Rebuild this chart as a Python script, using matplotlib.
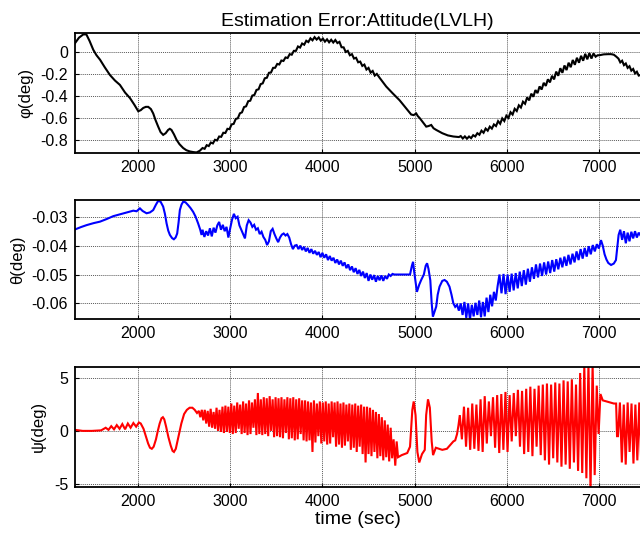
import numpy as np
import matplotlib
matplotlib.use("Agg")
import matplotlib.pyplot as plt

plt.rcParams['font.family'] = ['Liberation Sans', 'DejaVu Sans']
plt.rcParams['axes.unicode_minus'] = False

# ---------------- data ----------------
x_lim = (1317, 7444)
x_ticks = [2000, 3000, 4000, 5000, 6000, 7000]

# phi (roll) error, deg
phi_t1 = [1317, 1360, 1407, 1440, 1475, 1515, 1550, 1588, 1640, 1696, 1750, 1804, 1860, 1913, 1960, 2003,
          2030, 2057, 2085, 2111, 2140, 2165, 2190, 2219, 2245, 2273, 2300, 2327, 2345, 2363, 2390, 2418,
          2450, 2490, 2525, 2562, 2600, 2635, 2670]
phi_v1 = [0.08, 0.13, 0.16, 0.16, 0.10, 0.02, -0.03, -0.07, -0.14, -0.21, -0.26, -0.30, -0.37, -0.42, -0.48, -0.54,
          -0.53, -0.51, -0.50, -0.50, -0.52, -0.56, -0.62, -0.68, -0.73, -0.755, -0.74, -0.71, -0.70, -0.71, -0.75, -0.80,
          -0.84, -0.875, -0.895, -0.906, -0.912, -0.915, -0.90]
phi_osc0_start, phi_osc0_step = 2700, 22.5
phi_osc0 = [-0.875, -0.882, -0.849, -0.857, -0.825, -0.833, -0.800, -0.806, -0.770, -0.773,
            -0.736, -0.738, -0.700, -0.703, -0.660, -0.655, -0.610, -0.604, -0.559, -0.550,
            -0.502, -0.495, -0.449, -0.444, -0.397, -0.391, -0.346, -0.340, -0.293, -0.286,
            -0.240, -0.235, -0.190, -0.187, -0.145, -0.144, -0.109, -0.114, -0.078, -0.082]
phi_osc1_start, phi_osc1_step = 3600, 22.5
phi_osc1 = [-0.050, -0.055, -0.020, -0.025, 0.010, 0.010, 0.050, 0.040, 0.077, 0.066, 0.102, 0.090,
            0.124, 0.106, 0.135, 0.113, 0.132, 0.103, 0.122, 0.094, 0.115, 0.088, 0.111, 0.086,
            0.109, 0.081, 0.092, 0.043, 0.042, 0.000, 0.010, -0.030, -0.020, -0.060, -0.053, -0.094,
            -0.088, -0.127, -0.115, -0.160, -0.145, -0.188, -0.173, -0.215, -0.200]
phi_t2 = [4620, 4692, 4760, 4837, 4900, 4963, 4990, 5017, 5035, 5053, 5090, 5126, 5150, 5180, 5205, 5234,
          5300, 5360, 5420, 5480]
phi_v2 = [-0.235, -0.315, -0.375, -0.44, -0.505, -0.57, -0.575, -0.56, -0.585, -0.60, -0.64, -0.68, -0.675, -0.665, -0.695, -0.71,
          -0.74, -0.76, -0.77, -0.775]
phi_osc2_start, phi_osc2_step = 5500, 22.5
phi_osc2 = [-0.766, -0.788, -0.769, -0.790, -0.770, -0.785, -0.758, -0.770, -0.740,
            -0.754, -0.717, -0.736, -0.698, -0.717, -0.680, -0.698, -0.660, -0.675,
            -0.630, -0.654, -0.605, -0.629, -0.580, -0.601, -0.549, -0.570, -0.518, -0.538, -0.486, -0.506, -0.453, -0.472,
            -0.414, -0.441, -0.380, -0.408, -0.347, -0.375, -0.314, -0.342, -0.281, -0.309, -0.249, -0.277, -0.217,
            -0.250, -0.179, -0.217, -0.148, -0.190, -0.123, -0.165, -0.098, -0.139, -0.073, -0.117, -0.053, -0.098,
            -0.035, -0.080, -0.017, -0.067, -0.010, -0.060, -0.013, -0.043, -0.030]
phi_t3 = [7003, 7050, 7100, 7130, 7160, 7183, 7210, 7230, 7250, 7270, 7290, 7310, 7330, 7350, 7370, 7390, 7410, 7430, 7450]
phi_v3 = [-0.03, -0.022, -0.02, -0.02, -0.025, -0.04, -0.06, -0.095, -0.08, -0.12, -0.105, -0.145, -0.13, -0.17, -0.155, -0.195, -0.18, -0.215, -0.21]

# theta (pitch) error, deg
theta_t1 = [1317, 1380, 1443, 1520, 1588, 1660, 1732, 1800, 1877, 1949, 1985, 2021, 2050, 2093, 2130, 2165,
            2195, 2219, 2245, 2273, 2292, 2310, 2328, 2346, 2370, 2389, 2408, 2425, 2440, 2454, 2472, 2490,
            2515, 2544, 2570, 2598, 2625, 2652, 2675, 2689]
theta_v1 = [-0.0344, -0.0336, -0.0329, -0.0322, -0.0317, -0.0308, -0.0298, -0.0292, -0.0285, -0.0279, -0.0281, -0.0271, -0.0280, -0.0288, -0.0285, -0.0277,
            -0.0258, -0.0245, -0.0248, -0.0265, -0.0290, -0.0323, -0.0348, -0.0363, -0.0374, -0.0378, -0.0372, -0.0358, -0.0320, -0.0277, -0.0258, -0.0248,
            -0.0250, -0.0260, -0.0270, -0.0283, -0.0300, -0.0323, -0.0345, -0.0363]
theta_osc1_start, theta_osc1_step = 2700, 20
theta_osc1 = [-0.0345, -0.0370, -0.0350, -0.0365, -0.0340, -0.0368, -0.0338, -0.0355, -0.0330, -0.0318,
              -0.0345, -0.0328, -0.0350, -0.0335, -0.0372, -0.0340, -0.0310, -0.0290, -0.0305, -0.0300,
              -0.0330, -0.0345, -0.0360, -0.0375, -0.0330, -0.0312, -0.0320, -0.0335, -0.0328, -0.0345,
              -0.0340, -0.0360, -0.0352, -0.0370, -0.0380, -0.0398, -0.0385, -0.0350, -0.0342, -0.0360,
              -0.0375, -0.0388, -0.0372, -0.0362, -0.0358, -0.0365, -0.0360, -0.0372, -0.0395, -0.0412,
              -0.0400]
theta_osc2_start, theta_osc2_step = 3720, 20
theta_osc2 = [-0.0398, -0.0412, -0.0400, -0.0415, -0.0404, -0.0420, -0.0408, -0.0425, -0.0412, -0.0428,
              -0.0418, -0.0432, -0.0422, -0.0440, -0.0425, -0.0442, -0.0430, -0.0450, -0.0436, -0.0452,
              -0.0442, -0.0460, -0.0448, -0.0465, -0.0452, -0.0470, -0.0458, -0.0478, -0.0465, -0.0485,
              -0.0472, -0.0492, -0.0478, -0.0498, -0.0484, -0.0505, -0.0490, -0.0512, -0.0495, -0.0522,
              -0.0500, -0.0518, -0.0502, -0.0525, -0.0505, -0.0520, -0.0503, -0.0522, -0.0505, -0.0515,
              -0.0500, -0.0505, -0.0498, -0.0500, -0.0500]
theta_t2 = [4850, 4900, 4950, 4970, 4983, 4995, 5025, 5050, 5071, 5100, 5120, 5135, 5150, 5170, 5185, 5198,
            5215, 5234, 5250, 5270, 5300, 5325, 5350, 5378, 5400, 5420, 5440]
theta_v2 = [-0.0500, -0.0500, -0.0500, -0.0470, -0.0456, -0.0490, -0.0560, -0.0535, -0.0519, -0.0500, -0.0470, -0.0461, -0.0480, -0.0520, -0.0600, -0.0646,
            -0.0630, -0.0611, -0.0570, -0.0542, -0.0522, -0.0519, -0.0525, -0.0542, -0.0570, -0.0600, -0.0612]
theta_osc3_start, theta_osc3_step = 5460, 20
theta_osc3 = [-0.0605, -0.0625, -0.0600, -0.0640, -0.0595, -0.0650, -0.0600, -0.0656, -0.0605, -0.0645,
              -0.0598, -0.0640, -0.0590, -0.0648, -0.0595, -0.0645, -0.0580, -0.0630, -0.0570, -0.0610,
              -0.0560, -0.0590, -0.0540]
theta_osc4_start, theta_osc4_step = 5920, 22
theta_osc4 = [-0.0500, -0.0565, -0.0498, -0.0568, -0.0500, -0.0560, -0.0497, -0.0555, -0.0495, -0.0548,
              -0.0490, -0.0540, -0.0485, -0.0535, -0.0480, -0.0525, -0.0475, -0.0515, -0.0465, -0.0510,
              -0.0462, -0.0505, -0.0458, -0.0500, -0.0455, -0.0495, -0.0450, -0.0490, -0.0447, -0.0482,
              -0.0442, -0.0475, -0.0438, -0.0470, -0.0432, -0.0465, -0.0428, -0.0458, -0.0420, -0.0450,
              -0.0412, -0.0445, -0.0408, -0.0438, -0.0402, -0.0430, -0.0398, -0.0420, -0.0395, -0.0410]
theta_t3 = [7021, 7040, 7060, 7080, 7100, 7130, 7160, 7183, 7200, 7212]
theta_v3 = [-0.0381, -0.0400, -0.0430, -0.0448, -0.0460, -0.0467, -0.0462, -0.0450, -0.0400, -0.0363]
theta_osc5_start, theta_osc5_step = 7230, 20
theta_osc5 = [-0.0345, -0.0380, -0.0350, -0.0392, -0.0355, -0.0385, -0.0352, -0.0375, -0.0350, -0.0372,
              -0.0355, -0.0365]

# psi (yaw) error, deg
psi_t1 = [1317, 1400, 1500, 1600, 1650, 1680, 1710, 1740, 1770, 1800, 1830, 1860, 1890, 1920, 1950, 1980,
          2010, 2030, 2060, 2085, 2110, 2130, 2150, 2170, 2195, 2215, 2235, 2255, 2270, 2285, 2305, 2330,
          2355, 2375, 2390, 2410, 2430, 2450, 2470, 2500, 2530, 2560, 2590, 2615, 2640]
psi_v1 = [0.1, 0.0, 0.0, 0.05, 0.3, 0.1, 0.45, 0.15, 0.55, 0.2, 0.65, 0.15, 0.7, 0.3, 0.75, 0.4,
          0.8, 0.7, 0.2, -0.5, -1.2, -1.6, -1.7, -1.5, -0.8, 0.0, 0.7, 1.2, 1.3, 1.1, 0.4, -0.6,
          -1.4, -1.9, -2.0, -1.7, -0.9, -0.1, 0.7, 1.6, 2.0, 2.2, 2.2, 2.0, 1.7]
psi_osc1_start, psi_osc1_step = 2660, 16
psi_osc1 = [1.9, 1.3, 2.0, 1.0, 2.0, 0.7, 1.9, 0.4, 2.1, 0.3, 1.8, 0.2, 2.2, 0.0, 2.0, -0.1,
            2.3, -0.2, 2.4, -0.1, 2.3, -0.2, 2.6, -0.3, 2.4, -0.2, 2.7, 0.2, 2.5, -0.3, 2.8, -0.2,
            2.6, -0.4, 2.9, -0.3, 2.7, 0.3, 3.0, -0.4, 3.6, -0.3, 3.0, -0.4, 3.2, -0.3, 3.1, -0.5,
            3.3, 0.0, 3.0, -0.6, 3.2, -0.5, 3.1, -0.6, 3.2, -0.7, 3.0, -0.2, 3.2, -0.8, 3.1, -0.7,
            3.2, -0.9, 3.0, -0.8, 3.1, -0.3, 2.9, -0.9, 2.9, -1.0, 2.8, -0.9, 2.7, -2.0, 2.9, -1.1,
            2.6, -0.5, 2.8, -1.2, 2.7, -1.0, 2.8, -1.3, 2.6, -1.2, 2.8, -0.6, 2.7, -1.5, 2.8, -1.3,
            2.6, -1.6, 2.7, -1.4, 2.5, -1.0, 2.6, -1.8, 2.5, -1.6, 2.6, -2.0, 2.4, -1.5, 2.5, -2.2,
            2.3, -3.0, 2.3, -2.2, 2.2, -2.4, 2.0, -2.0, 1.8, -2.6, 1.6, -2.4, 1.3, -2.8, 1.0, -2.5,
            0.6, -2.9, 0.3, -2.6, -0.8]
psi_t2 = [4790, 4805, 4820, 4860, 4920, 4950, 4975, 4990, 5010, 5030, 5050, 5080, 5110, 5125, 5145, 5165,
          5185, 5200, 5230, 5300, 5350, 5390, 5420, 5440, 5460, 5475]
psi_v2 = [-3.3, -1.0, -2.5, -2.3, -2.1, -1.5, 2.0, 2.8, 1.5, -2.0, -3.0, -2.2, -1.8, 1.5, 3.0, 2.2,
          -1.0, -2.3, -1.6, -1.8, -1.7, -1.3, -1.0, -0.9, -0.3, 0.5]
psi_osc2_start, psi_osc2_step = 5490, 22.5
psi_osc2 = [1.5, -0.8, 2.3, -1.5, 2.2, -1.8, 2.6, -1.7, 2.5, -1.9, 3.0, -2.0, 3.3, -1.2, 2.8, -0.5,
            3.2, -1.6, 3.4, -2.1, 3.5, -1.8, 3.7, -2.0, 3.4, -1.0, 3.6, -0.5, 3.9, -1.5, 3.8, -2.2,
            4.0, -2.0, 4.2, -2.4, 4.0, -1.5, 4.3, -2.3, 4.4, -2.8, 4.5, -3.2, 4.4, -2.6, 4.6, -3.0,
            4.5, -3.4, 4.8, -3.2, 4.7, -3.6, 4.9, -3.0, 4.4, -3.8, 5.5, -4.0, 6.2, -4.5, 6.3, -5.6,
            6.3, -4.2, 4.3]
psi_t3 = [6995, 7015, 7040, 7080, 7120, 7160, 7185, 7195]
psi_v3 = [-0.3, 3.5, 2.9, 2.8, 2.7, 2.6, 2.6, -0.5]
psi_osc3_start, psi_osc3_step = 7205, 21
psi_osc3 = [-0.5, 2.7, -3.0, 2.5, -3.2, 2.7, -2.0, 2.6, -3.1, 2.5, -2.8, 2.7, -3.0]


def assemble(pieces):
    ts, vs = [], []
    for p in pieces:
        if len(p) == 2:
            ts.extend(p[0]); vs.extend(p[1])
        else:
            start, step, vals = p
            ts.extend(start + step * np.arange(len(vals))); vs.extend(vals)
    return np.array(ts, float), np.array(vs, float)


phi_t, phi_v = assemble([(phi_t1, phi_v1), (phi_osc0_start, phi_osc0_step, phi_osc0),
                         (phi_osc1_start, phi_osc1_step, phi_osc1),
                         (phi_t2, phi_v2), (phi_osc2_start, phi_osc2_step, phi_osc2), (phi_t3, phi_v3)])
theta_t, theta_v = assemble([(theta_t1, theta_v1), (theta_osc1_start, theta_osc1_step, theta_osc1),
                             (theta_osc2_start, theta_osc2_step, theta_osc2), (theta_t2, theta_v2),
                             (theta_osc3_start, theta_osc3_step, theta_osc3),
                             (theta_osc4_start, theta_osc4_step, theta_osc4), (theta_t3, theta_v3),
                             (theta_osc5_start, theta_osc5_step, theta_osc5)])
psi_t, psi_v = assemble([(psi_t1, psi_v1), (psi_osc1_start, psi_osc1_step, psi_osc1), (psi_t2, psi_v2),
                         (psi_osc2_start, psi_osc2_step, psi_osc2), (psi_t3, psi_v3),
                         (psi_osc3_start, psi_osc3_step, psi_osc3)])

panels = [
    dict(t=phi_t, v=phi_v, color='black', ylim=(-0.92, 0.173), yticks=[-0.8, -0.6, -0.4, -0.2, 0],
         yticklabels=['-0.8', '-0.6', '-0.4', '-0.2', '0'], ylabel='φ(deg)', labx=-0.074,
         rect=[0.1172, 0.7146, 0.8828, 0.2239]),
    dict(t=theta_t, v=theta_v, color='#0000ff', ylim=(-0.0655, -0.0242), yticks=[-0.06, -0.05, -0.04, -0.03],
         yticklabels=['-0.06', '-0.05', '-0.04', '-0.03'], ylabel='θ(deg)', labx=-0.088,
         rect=[0.1172, 0.4043, 0.8828, 0.2226]),
    dict(t=psi_t, v=psi_v, color='#ff0000', ylim=(-5.3, 6.1), yticks=[-5, 0, 5],
         yticklabels=['-5', '0', '5'], ylabel='ψ(deg)', labx=-0.051,
         rect=[0.1172, 0.0920, 0.8828, 0.2239]),
]

fig = plt.figure(figsize=(6.4, 5.36), dpi=100)
axes = []
for p in panels:
    ax = fig.add_axes(p['rect'])
    ax.plot(p['t'], p['v'], color=p['color'], lw=1.5, solid_joinstyle='miter')
    ax.set_xlim(*x_lim)
    ax.set_ylim(*p['ylim'])
    ax.set_xticks(x_ticks)
    ax.set_xticklabels([str(x) for x in x_ticks])
    ax.set_yticks(p['yticks'])
    ax.set_yticklabels(p['yticklabels'])
    ax.grid(True, color='0.35', linestyle=(0, (1, 1)), linewidth=0.7)
    ax.tick_params(direction='in', length=3, labelsize=11.5, pad=5, colors='black')
    for s in ['top', 'left', 'bottom']:
        ax.spines[s].set_linewidth(1.3)
        ax.spines[s].set_color('black')
    ax.spines['right'].set_visible(False)
    ax.set_ylabel(p['ylabel'], fontsize=12)
    ax.yaxis.set_label_coords(p['labx'], 0.5)
    axes.append(ax)

axes[0].set_title('Estimation Error:Attitude(LVLH)', fontsize=14, pad=5)
axes[2].set_xlabel('time (sec)', fontsize=14, labelpad=2)

fig.savefig('out.png', dpi=100)
